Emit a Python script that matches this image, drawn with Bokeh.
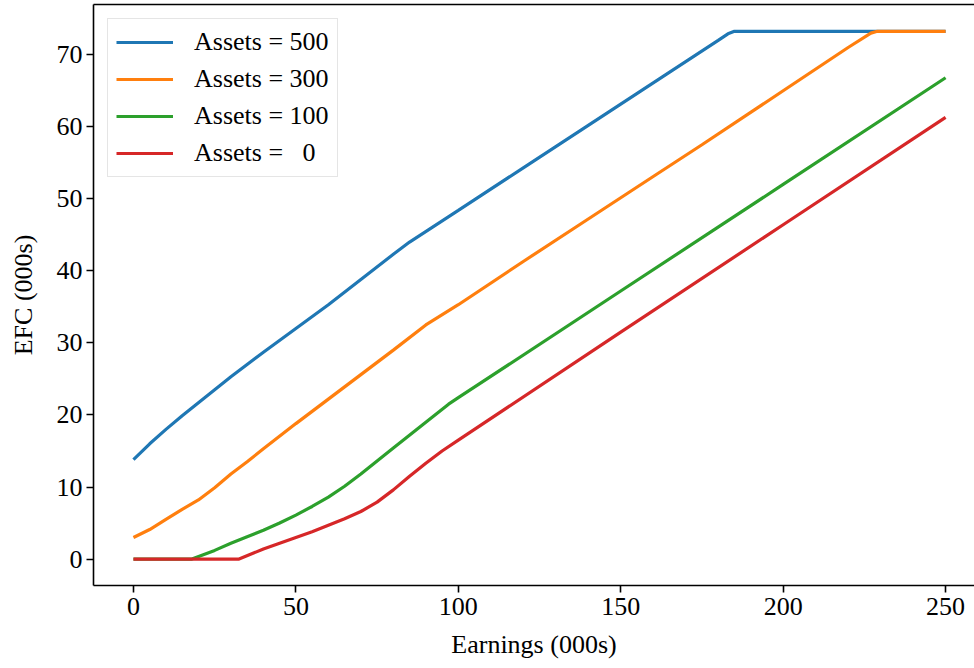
from bokeh.plotting import figure
from bokeh.models import Range1d, FixedTicker, LinearAxis, Legend, LegendItem
from bokeh.embed import file_html
from bokeh.resources import INLINE

# ---- data ----
x_500 = [0, 5, 10, 15, 20, 25, 30, 40, 50, 60, 70, 80, 85, 100, 120, 140, 160, 180, 183, 185, 250]
y_500 = [13.8, 16.0, 18.0, 19.9, 21.7, 23.5, 25.3, 28.7, 32.0, 35.3, 38.8, 42.3, 44.0, 48.4, 54.3,
         60.2, 66.1, 72.0, 72.9, 73.25, 73.25]

x_300 = [0, 5, 10, 15, 20, 25, 30, 35, 40, 50, 60, 70, 80, 90, 100, 120, 140, 160, 175, 200, 220, 227, 229, 250]
y_300 = [3.0, 4.1, 5.5, 6.9, 8.2, 9.9, 11.8, 13.5, 15.3, 18.8, 22.2, 25.6, 29.0, 32.5, 35.3, 41.3,
         47.2, 53.1, 57.5, 65.0, 71.0, 73.0, 73.25, 73.25]

x_100 = [0, 18, 25, 30, 35, 40, 45, 50, 55, 60, 65, 70, 80, 90, 97, 100, 150, 200, 250]
y_100 = [0, 0, 1.2, 2.2, 3.1, 4.0, 5.0, 6.1, 7.3, 8.6, 10.1, 11.8, 15.4, 19.0, 21.5, 22.4, 37.2, 52.0, 66.8]

x_0 = [0, 32.5, 40, 45, 50, 55, 60, 65, 70, 75, 80, 85, 90, 95, 100, 150, 200, 250]
y_0 = [0, 0, 1.4, 2.2, 3.0, 3.8, 4.7, 5.6, 6.6, 7.9, 9.6, 11.5, 13.3, 15.0, 16.5, 31.5, 46.4, 61.3]

series_labels = ["Assets = 500", "Assets = 300", "Assets = 100", "Assets =\u00a0\u00a0\u00a00"]
series_colors = ["#1f77b4", "#ff7f0e", "#2ca02c", "#d62728"]
x_ticks = [0, 50, 100, 150, 200, 250]
y_ticks = [0, 10, 20, 30, 40, 50, 60, 70]

FONT = "Liberation Serif"
FS = "26px"

p = figure(width=974, height=668, output_backend="svg", toolbar_location=None,
           x_range=Range1d(-12.3, 258.9), y_range=Range1d(-3.67, 76.97),
           min_border_left=93, min_border_right=0, min_border_top=4, min_border_bottom=83)
p.background_fill_color = "white"
p.border_fill_color = "white"
p.outline_line_color = None
p.grid.visible = False

renderers = []
for xs, ys, c in zip([x_500, x_300, x_100, x_0], [y_500, y_300, y_100, y_0], series_colors):
    r = p.line(xs, ys, line_color=c, line_width=3.2)
    renderers.append(r)

for ax in (p.xaxis[0], p.yaxis[0]):
    ax.axis_line_width = 1.6
    ax.axis_line_color = "black"
    ax.major_tick_line_width = 1.6
    ax.major_tick_out = 7
    ax.major_tick_in = 0
    ax.minor_tick_line_color = None
    ax.major_label_text_font = FONT
    ax.major_label_text_font_size = FS
    ax.major_label_text_color = "black"
    ax.axis_label_text_font = FONT
    ax.axis_label_text_font_size = FS
    ax.axis_label_text_font_style = "normal"
    ax.axis_label_text_color = "black"

p.xaxis[0].ticker = FixedTicker(ticks=x_ticks)
p.yaxis[0].ticker = FixedTicker(ticks=y_ticks)
p.xaxis[0].axis_label = "Earnings (000s)"
p.yaxis[0].axis_label = "EFC (000s)"
p.xaxis[0].major_label_standoff = 5
p.yaxis[0].major_label_standoff = 4
p.xaxis[0].axis_label_standoff = 12
p.yaxis[0].axis_label_standoff = 16

top = LinearAxis(ticker=FixedTicker(ticks=[]), axis_line_width=1.6, axis_line_color="black",
                 major_tick_line_color=None, minor_tick_line_color=None,
                 major_label_text_font_size="0px", major_label_standoff=0,
                 major_tick_out=0, major_tick_in=0)
p.add_layout(top, "above")

legend = Legend(items=[LegendItem(label=l, renderers=[r]) for l, r in zip(series_labels, renderers)],
                location="top_left")
legend.margin = 14
legend.padding = 8
legend.spacing = 7
legend.glyph_width = 57
legend.glyph_height = 30
legend.label_height = 30
legend.label_standoff = 21
legend.label_text_font = FONT
legend.label_text_font_size = FS
legend.label_text_color = "black"
legend.border_line_color = "#cccccc"
legend.border_line_width = 1.5
legend.background_fill_alpha = 0.8
p.add_layout(legend, "center")

open("out.html", "w").write(file_html(p, INLINE))
